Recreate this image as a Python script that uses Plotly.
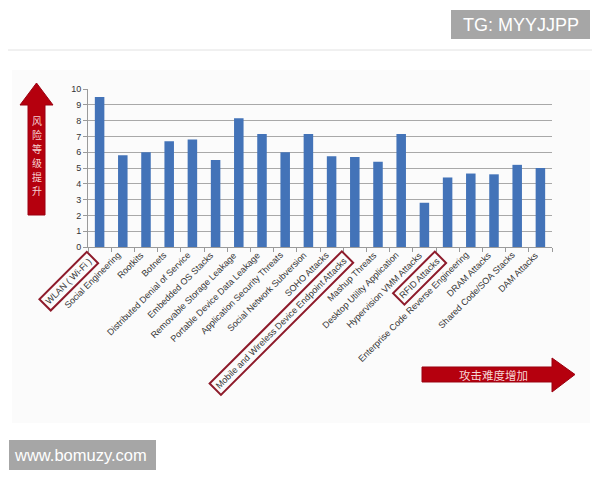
import plotly.graph_objects as go

categories = [
    "WLAN ( Wi-Fi )", "Social Engineering", "Rootkits", "Botnets",
    "Distributed Denial of Service", "Embedded OS Stacks",
    "Removable Storage Leakage", "Portable Device Data Leakage",
    "Application Security Threats", "Social Network Subversion",
    "SOHO Attacks", "Mobile and Wireless Device Endpoint Attacks",
    "Mashup Threats", "Desktop Utility Application",
    "Hypervision VMM Attacks", "RFID Attacks",
    "Enterprise Code Reverse Engineering", "DRAM Attacks",
    "Shared Code/SOA Stacks", "DAM Attacks",
]
risk_values = [9.5, 5.8, 6.0, 6.7, 6.8, 5.5, 8.15, 7.15, 6.0, 7.15,
               5.75, 5.7, 5.4, 7.15, 2.8, 4.4, 4.65, 4.6, 5.2, 5.0]
highlighted = ["WLAN ( Wi-Fi )", "Mobile and Wireless Device Endpoint Attacks", "RFID Attacks"]
y_ticks = list(range(0, 11))
risk_chars = ["风", "险", "等", "级", "提", "升"]

OFF = 8  # page body margin
W, H = 584, 464
ML, PW = 80, 464
MT, PH = 81, 158
MR = W - ML - PW
MB = H - MT - PH


def px(sx):
    return (sx - OFF - ML) / PW


def py(sy):
    return (MT + PH - (sy - OFF)) / PH


fig = go.Figure()
fig.add_trace(go.Bar(
    x=categories, y=risk_values,
    marker=dict(color="#4373b8", line=dict(width=0)),
    hoverinfo="x+y",
))

shapes = []
shapes.append(dict(type="rect", xref="paper", yref="paper", layer="below",
                   x0=px(12), x1=px(590), y0=py(423), y1=py(70),
                   fillcolor="#fbfbfb", line=dict(width=0)))
shapes.append(dict(type="line", xref="paper", yref="paper",
                   x0=px(8), x1=px(592), y0=py(50), y1=py(50),
                   line=dict(color="#e2e2e2", width=1)))


def path(points):
    return "M " + " L ".join(f"{px(a):.5f},{py(b):.5f}" for a, b in points) + " Z"


red = "#b5000e"
shapes.append(dict(type="path", xref="paper", yref="paper",
                   path=path([(28, 215), (28, 105), (20, 105), (36.5, 83), (53, 105), (45, 105), (45, 215)]),
                   fillcolor=red, line=dict(color="#9a0010", width=1)))
shapes.append(dict(type="path", xref="paper", yref="paper",
                   path=path([(422, 367), (552, 367), (552, 358), (575, 374.5), (552, 392), (552, 382), (422, 382)]),
                   fillcolor=red, line=dict(color="#9a0010", width=1)))
shapes.append(dict(type="rect", xref="paper", yref="paper",
                   x0=px(451), x1=px(590), y0=py(39), y1=py(10),
                   fillcolor="#a6a6a6", line=dict(width=0)))
shapes.append(dict(type="rect", xref="paper", yref="paper",
                   x0=px(9), x1=px(156), y0=py(470), y1=py(440),
                   fillcolor="#a6a6a6", line=dict(width=0)))

annotations = []
for c in categories:
    boxed = c in highlighted
    annotations.append(dict(
        x=c, xref="x", y=0, yref="paper", yshift=-3,
        xanchor="right", yanchor="top", textangle=-45,
        text=c, showarrow=False,
        font=dict(family="Liberation Sans, Arial, sans-serif", size=9, color="#333333"),
        bordercolor="#8e1b2b" if boxed else "rgba(0,0,0,0)",
        borderwidth=2 if boxed else 0, borderpad=2 if boxed else 0,
    ))

for i, ch in enumerate(risk_chars):
    annotations.append(dict(
        x=px(36.5), y=py(120 + 14 * i), xref="paper", yref="paper",
        text=ch, showarrow=False,
        font=dict(family="Noto Sans CJK SC", size=10, color="#f6d0d0"),
        xanchor="center", yanchor="middle",
    ))
annotations.append(dict(
    x=px(493), y=py(374.5), xref="paper", yref="paper",
    text="攻击难度增加", showarrow=False,
    font=dict(family="Noto Sans CJK SC", size=11.5, color="#f6d6d6"),
    xanchor="center", yanchor="middle",
))
annotations.append(dict(
    x=px(520.5), y=py(24.5), xref="paper", yref="paper",
    text="TG: MYYJJPP", showarrow=False,
    font=dict(family="Liberation Sans, Arial, sans-serif", size=18, color="#ffffff"),
    xanchor="center", yanchor="middle",
))
annotations.append(dict(
    x=px(80), y=py(455), xref="paper", yref="paper",
    text="www.bomuzy.com", showarrow=False,
    font=dict(family="Liberation Sans, Arial, sans-serif", size=16.5, color="#ffffff"),
    xanchor="center", yanchor="middle",
))

fig.update_layout(
    width=W, height=H,
    margin=dict(l=ML, r=MR, t=MT, b=MB, pad=0),
    paper_bgcolor="#ffffff", plot_bgcolor="rgba(0,0,0,0)",
    bargap=0.59, showlegend=False,
    shapes=shapes, annotations=annotations,
    xaxis=dict(
        type="category", showticklabels=False, showgrid=False,
        showline=True, linecolor="#9a9a9a", linewidth=1,
        ticks="outside", ticklen=4, tickcolor="#9a9a9a", tickson="boundaries",
        range=[-0.5, len(categories) - 0.5],
    ),
    yaxis=dict(
        range=[0, 10], tickvals=y_ticks, ticktext=[str(v) for v in y_ticks],
        showgrid=True, gridcolor="#a8a8a8", gridwidth=1,
        showline=True, linecolor="#9a9a9a", linewidth=1,
        ticks="outside", ticklen=4, tickcolor="#9a9a9a",
        tickfont=dict(family="Liberation Sans, Arial, sans-serif", size=9, color="#333333"),
        zeroline=False,
    ),
)

fig.write_html("out.html")
